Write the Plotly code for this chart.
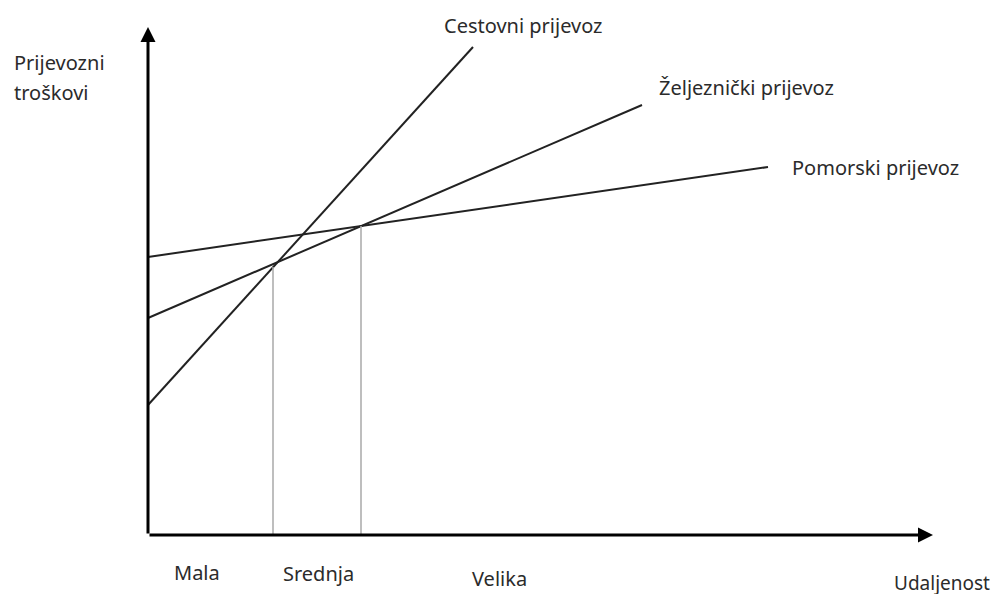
import plotly.graph_objects as go

# Abstract units: distance (x) and transport cost (y), origin at axes crossing
series_names = ["Cestovni prijevoz", "Željeznički prijevoz", "Pomorski prijevoz"]
dist_start = [0, 0, 0]
dist_end = [325, 494, 620]
cost_start = [130, 217, 278]
cost_end = [488, 430, 368]

# Break-even distances (vertical guide lines) and their cost levels
breakeven_dist = [125, 213]
breakeven_cost = [268, 309]

# Axis extent
x_axis_end = 785
y_axis_end = 508

# Category labels along the distance axis
dist_labels = ["Mala", "Srednja", "Velika"]
dist_label_x = [49, 170, 351]
dist_label_y = [-37, -38, -43]

FONT = "Noto Sans"
TXT = "#2b2b2b"
FS = 20

fig = go.Figure()

for i, name in enumerate(series_names):
    fig.add_trace(go.Scatter(
        x=[dist_start[i], dist_end[i]], y=[cost_start[i], cost_end[i]],
        mode="lines", line=dict(color="#222222", width=2), name=name,
        showlegend=False, hoverinfo="skip"))

for d, c in zip(breakeven_dist, breakeven_cost):
    fig.add_trace(go.Scatter(
        x=[d, d], y=[0, c], mode="lines",
        line=dict(color="#a8a8a8", width=1.5), showlegend=False, hoverinfo="skip"))

annotations = []
# axes with arrows
annotations.append(dict(x=x_axis_end, y=0, ax=0, ay=0, xref="x", yref="y", axref="x", ayref="y",
                        showarrow=True, arrowhead=2, arrowsize=1, arrowwidth=3, arrowcolor="black", text=""))
annotations.append(dict(x=0, y=y_axis_end, ax=0, ay=0, xref="x", yref="y", axref="x", ayref="y",
                        showarrow=True, arrowhead=2, arrowsize=1, arrowwidth=3, arrowcolor="black", text=""))

label_pos = [(294, 510), (509, 448), (642, 368)]
for name, (lx, ly) in zip(series_names, label_pos):
    annotations.append(dict(x=lx, y=ly, text=name, showarrow=False, xanchor="left", yanchor="middle",
                            font=dict(family=FONT, size=FS, color=TXT)))

annotations.append(dict(x=-136, y=473, text="Prijevozni", showarrow=False, xanchor="left", yanchor="middle",
                        font=dict(family=FONT, size=FS, color=TXT)))
annotations.append(dict(x=-136, y=443, text="troškovi", showarrow=False, xanchor="left", yanchor="middle",
                        font=dict(family=FONT, size=FS, color=TXT)))

for t, lx, ly in zip(dist_labels, dist_label_x, dist_label_y):
    annotations.append(dict(x=lx, y=ly, text=t, showarrow=False, xanchor="center", yanchor="middle",
                            font=dict(family=FONT, size=FS, color=TXT)))

annotations.append(dict(x=744, y=-48, text="Udaljenost", showarrow=False, xanchor="left", yanchor="middle",
                        font=dict(family=FONT, size=19, color=TXT)))

# page body has an 8px margin, so ranges are shifted to place the origin correctly
fig.update_layout(
    width=1000, height=594,
    margin=dict(l=0, r=0, t=0, b=0),
    paper_bgcolor="white", plot_bgcolor="white",
    xaxis=dict(range=[-140, 860], visible=False, fixedrange=True),
    yaxis=dict(range=[-67, 527], visible=False, fixedrange=True),
    annotations=annotations,
    showlegend=False,
)

fig.write_html("out.html")
